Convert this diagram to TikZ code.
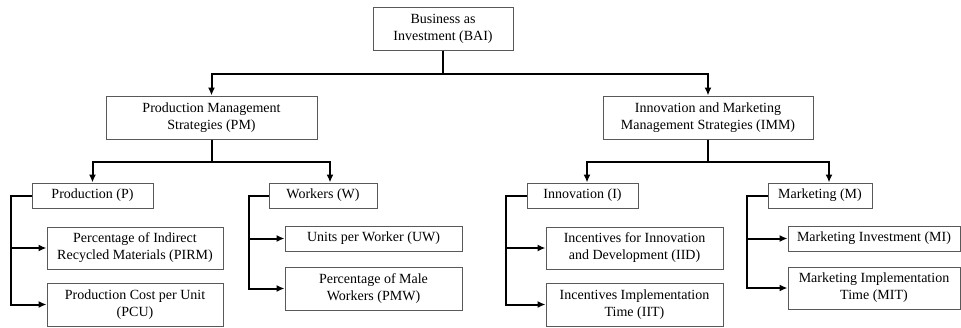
\documentclass[tikz,border=0pt]{standalone}
\usepackage{fontspec}
\setmainfont{Liberation Serif}
\usepackage{tikz}
\usetikzlibrary{arrows.meta,positioning}

\tikzset{
  block/.style={draw=black!65, line width=1pt, align=center, inner sep=0pt,
    font=\fontsize{14}{17}\selectfont},
  link/.style={->, >={Latex[length=8pt,width=7pt]}, line width=2pt, black}
}

\begin{document}
\begin{tikzpicture}[x=1pt, y=-1pt]
  \useasboundingbox (0,0) rectangle (961,327);

  \node [block, minimum width=140pt, minimum height=43pt] (BAI) at (443,28.5) {Business as\\Investment (BAI)};

  \node [block, minimum width=211pt, minimum height=43pt] (PM) at (211.5,117.5) {Production Management\\Strategies (PM)};
  \node [block, minimum width=210pt, minimum height=43pt] (IMM) at (708,117.5) {Innovation and Marketing\\Management Strategies (IMM)};

  \node [block, minimum width=121pt, minimum height=25pt] (P) at (92.5,195.5) {Production (P)};
  \node [block, minimum width=108pt, minimum height=25pt] (W) at (323,195.5) {Workers (W)};
  \node [block, minimum width=111pt, minimum height=25pt] (I) at (582.5,195.5) {Innovation (I)};
  \node [block, minimum width=104pt, minimum height=25pt] (M) at (820,195.5) {Marketing (M)};

  \node [block, minimum width=176pt, minimum height=42pt] (PIRM) at (135,248) {Percentage of Indirect\\Recycled Materials (PIRM)};
  \node [block, minimum width=176pt, minimum height=43pt] (PCU) at (135,304.5) {Production Cost per Unit\\(PCU)};
  \node [block, minimum width=177pt, minimum height=25pt] (UW) at (373.5,238.5) {Units per Worker (UW)};
  \node [block, minimum width=177pt, minimum height=43pt] (PMW) at (373.5,288.5) {Percentage of Male\\Workers (PMW)};
  \node [block, minimum width=177pt, minimum height=42pt] (IID) at (634.5,248) {Incentives for Innovation\\and Development (IID)};
  \node [block, minimum width=177pt, minimum height=43pt] (IIT) at (634.5,304.5) {Incentives Implementation\\Time (IIT)};
  \node [block, minimum width=172pt, minimum height=25pt] (MI) at (874,238.5) {Marketing Investment (MI)};
  \node [block, minimum width=172pt, minimum height=42pt] (MIT) at (874,288) {Marketing Implementation\\Time (MIT)};

  % top level
  \draw [link] (BAI.south) -- ++(0,23) -| (PM.north);
  \draw [link] (BAI.south) -- ++(0,23) -| (IMM.north);

  % strategies
  \draw [link] (PM.south) -- ++(0,22) -| (P.north);
  \draw [link] (PM.south) -- ++(0,22) -| ([xshift=7pt]W.north);
  \draw [link] (IMM.south) -- ++(0,22) -| ([xshift=4.5pt]I.north);
  \draw [link] (IMM.south) -- ++(0,22) -| ([xshift=9pt]M.north);

  % indicators
  \draw [link] (P.west) -- ++(-21,0) |- (PCU.west);
  \draw [link] ([xshift=-21pt]P.west) |- (PIRM.west);
  \draw [link] (W.west) -- ++(-20,0) |- (PMW.west);
  \draw [link] ([xshift=-20pt]W.west) |- (UW.west);
  \draw [link] (I.west) -- ++(-21,0) |- (IIT.west);
  \draw [link] ([xshift=-21pt]I.west) |- (IID.west);
  \draw [link] (M.west) -- ++(-21,0) |- (MIT.west);
  \draw [link] ([xshift=-21pt]M.west) |- (MI.west);
\end{tikzpicture}
\end{document}
